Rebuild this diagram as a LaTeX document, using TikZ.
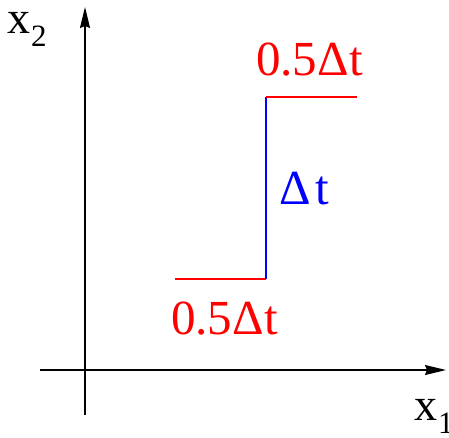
\documentclass[tikz,border=0pt]{standalone}
\usepackage{fontspec}
\setmainfont{Liberation Serif}
\usetikzlibrary{arrows.meta}
\definecolor{myred}{RGB}{255,0,0}
\definecolor{myblue}{RGB}{0,0,255}
\tikzset{
  axis/.style={line width=1.4pt,-{Stealth[length=21pt,width=10pt,inset=2pt]}},
  redline/.style={myred,line width=1.3pt},
  blueline/.style={myblue,line width=1.3pt},
  lbl/.style={inner sep=0pt,anchor=base west,font=\fontsize{49}{52}\selectfont},
  xlbl/.style={inner sep=0pt,anchor=base west,font=\fontsize{46}{50}\selectfont},
}
\begin{document}
\begin{tikzpicture}[x=1pt,y=-1pt]
\useasboundingbox (0,0) rectangle (449,437);
% axes
\coordinate (xs) at (40,370);
\coordinate (xe) at (446,370);
\coordinate (ys) at (85,415);
\coordinate (ye) at (85,7);
\draw[axis] (xs) -- (xe);
\draw[axis] (ys) -- (ye);
% step
\coordinate (a) at (175,279);
\coordinate (b) at (266,279);
\coordinate (c) at (266,97);
\coordinate (d) at (357,97);
\draw[redline] (a) -- (b);
\draw[blueline] (b) -- (c);
\draw[redline] (c) -- (d);
% labels
\node[xlbl] (x2) at (7,33) {x\kern1pt\raisebox{-13pt}{\fontsize{31}{34}\selectfont 2}};
\node[xlbl] (x1) at (414,420) {x\kern1pt\raisebox{-13pt}{\fontsize{31}{34}\selectfont 1}};
\node[lbl,text=myred] (top) at (256,75) {0.5Δ\kern1pt t};
\node[lbl,text=myred] (bot) at (171,334) {0.5Δ\kern1pt t};
\node[lbl,text=myblue] (mid) at (279,204) {Δ\kern5pt t};
\end{tikzpicture}
\end{document}
